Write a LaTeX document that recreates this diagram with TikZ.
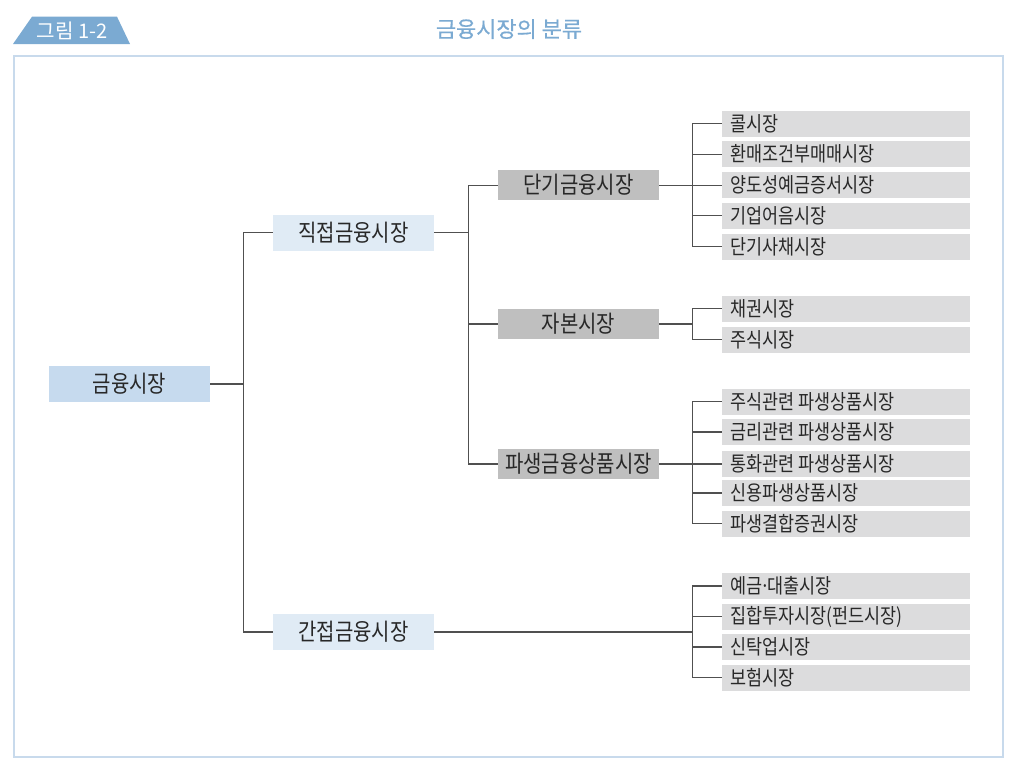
\documentclass[tikz,border=0pt]{standalone}
\usepackage{fontspec}
\setmainfont{Noto Sans CJK KR}[FakeStretch=0.85]
\newfontfamily\headfont{Noto Sans CJK KR}
\newfontfamily\titlefont{Noto Sans CJK KR}[FakeBold=0.6]
\usetikzlibrary{calc}

\definecolor{headblue}{RGB}{123,170,210}
\definecolor{framecol}{RGB}{200,218,236}
\definecolor{rootblue}{RGB}{198,218,238}
\definecolor{paleblue}{RGB}{224,235,245}
\definecolor{midgray}{RGB}{191,191,191}
\definecolor{leafgray}{RGB}{220,220,221}
\definecolor{linegray}{RGB}{80,80,80}
\definecolor{textgray}{RGB}{40,40,40}

\tikzset{
  box/.style={minimum height=0.9cm, minimum width=4.025cm, inner sep=0pt, text=textgray, font=\fontsize{16.7}{17}\selectfont},
  rootbox/.style={box, fill=rootblue},
  sidebox/.style={box, fill=paleblue},
  midbox/.style={box, fill=midgray, minimum height=0.75cm},
  leaf/.style={fill=leafgray, minimum height=0.65cm, text width=5.8cm, align=left, inner xsep=0.2cm, inner ysep=0pt, text=textgray, font=\fontsize{14.6}{15}\selectfont},
  link/.style={draw=linegray, line width=0.8pt},
}

\begin{document}
\begin{tikzpicture}
\useasboundingbox (0,0) rectangle (25.5,-19.45);
% header and frame
\fill[headblue] (0.325,-1.1) -- (0.8,-0.4175) -- (2.925,-0.4175) -- (3.25,-1.1) -- cycle;
\node[text=white, font=\headfont\fontsize{14.3}{15}\selectfont] (tag) at (1.8,-0.77) {그림 1-2};
\node[text=headblue, font=\titlefont\fontsize{15.6}{16}\selectfont] (title) at (12.725,-0.725) {금융시장의 분류};
\draw[framecol, line width=1.1pt] (0.35,-1.4) rectangle (25.075,-18.925);

% the market levels
\node[rootbox] (root) at (3.2375,-9.6) {금융시장};
\node[sidebox] (direct) at (8.8375,-5.8125) {직접금융시장};
\node[sidebox] (indirect) at (8.8375,-15.8) {간접금융시장};
\node[midbox] (short) at (14.4625,-4.63) {단기금융시장};
\node[midbox] (capital) at (14.4625,-8.1) {자본시장};
\node[midbox] (deriv) at (14.4625,-11.6) {파생금융상품시장};

\draw[link] (root.east) -- ++(0.825,0) |- (direct);
\draw[link] (root.east) -- ++(0.825,0) |- (indirect);
\draw[link] (direct.east) -- ++(0.85,0) |- (short);
\draw[link] (direct.east) -- ++(0.85,0) |- (capital);
\draw[link] (direct.east) -- ++(0.85,0) |- (deriv);

% the leaves
\foreach \y/\t [count=\i] in {3.0875/콜시장, 3.856/환매조건부매매시장, 4.63/양도성예금증서시장, 5.394/기업어음시장, 6.1625/단기사채시장}{
  \node[leaf] (sa\i) at (21.15,-\y) {\t};
  \draw[link] (short.east) -- ++(0.825,0) |- (sa\i);
}
\foreach \y/\t [count=\i] in {7.7125/채권시장, 8.4875/주식시장}{
  \node[leaf] (ca\i) at (21.15,-\y) {\t};
  \draw[link] (capital.east) -- ++(0.825,0) |- (ca\i);
}
\foreach \y/\t [count=\i] in {10.0375/주식관련\hspace{-0.12em} 파생상품시장, 10.8/금리관련\hspace{-0.12em} 파생상품시장, 11.6/통화관련\hspace{-0.12em} 파생상품시장, 12.325/신용파생상품시장, 13.0875/파생결합증권시장}{
  \node[leaf] (de\i) at (21.15,-\y) {\t};
  \draw[link] (deriv.east) -- ++(0.825,0) |- (de\i);
}
\foreach \y/\t [count=\i] in {14.65/예금\kern-0.1em·\kern-0.1em대출시장, 15.4125/집합투자시장(펀드시장), 16.175/신탁업시장, 16.9375/보험시장}{
  \node[leaf] (in\i) at (21.15,-\y) {\t};
  \draw[link] (indirect.east) -- ++(6.45,0) |- (in\i);
}
\end{tikzpicture}
\end{document}
